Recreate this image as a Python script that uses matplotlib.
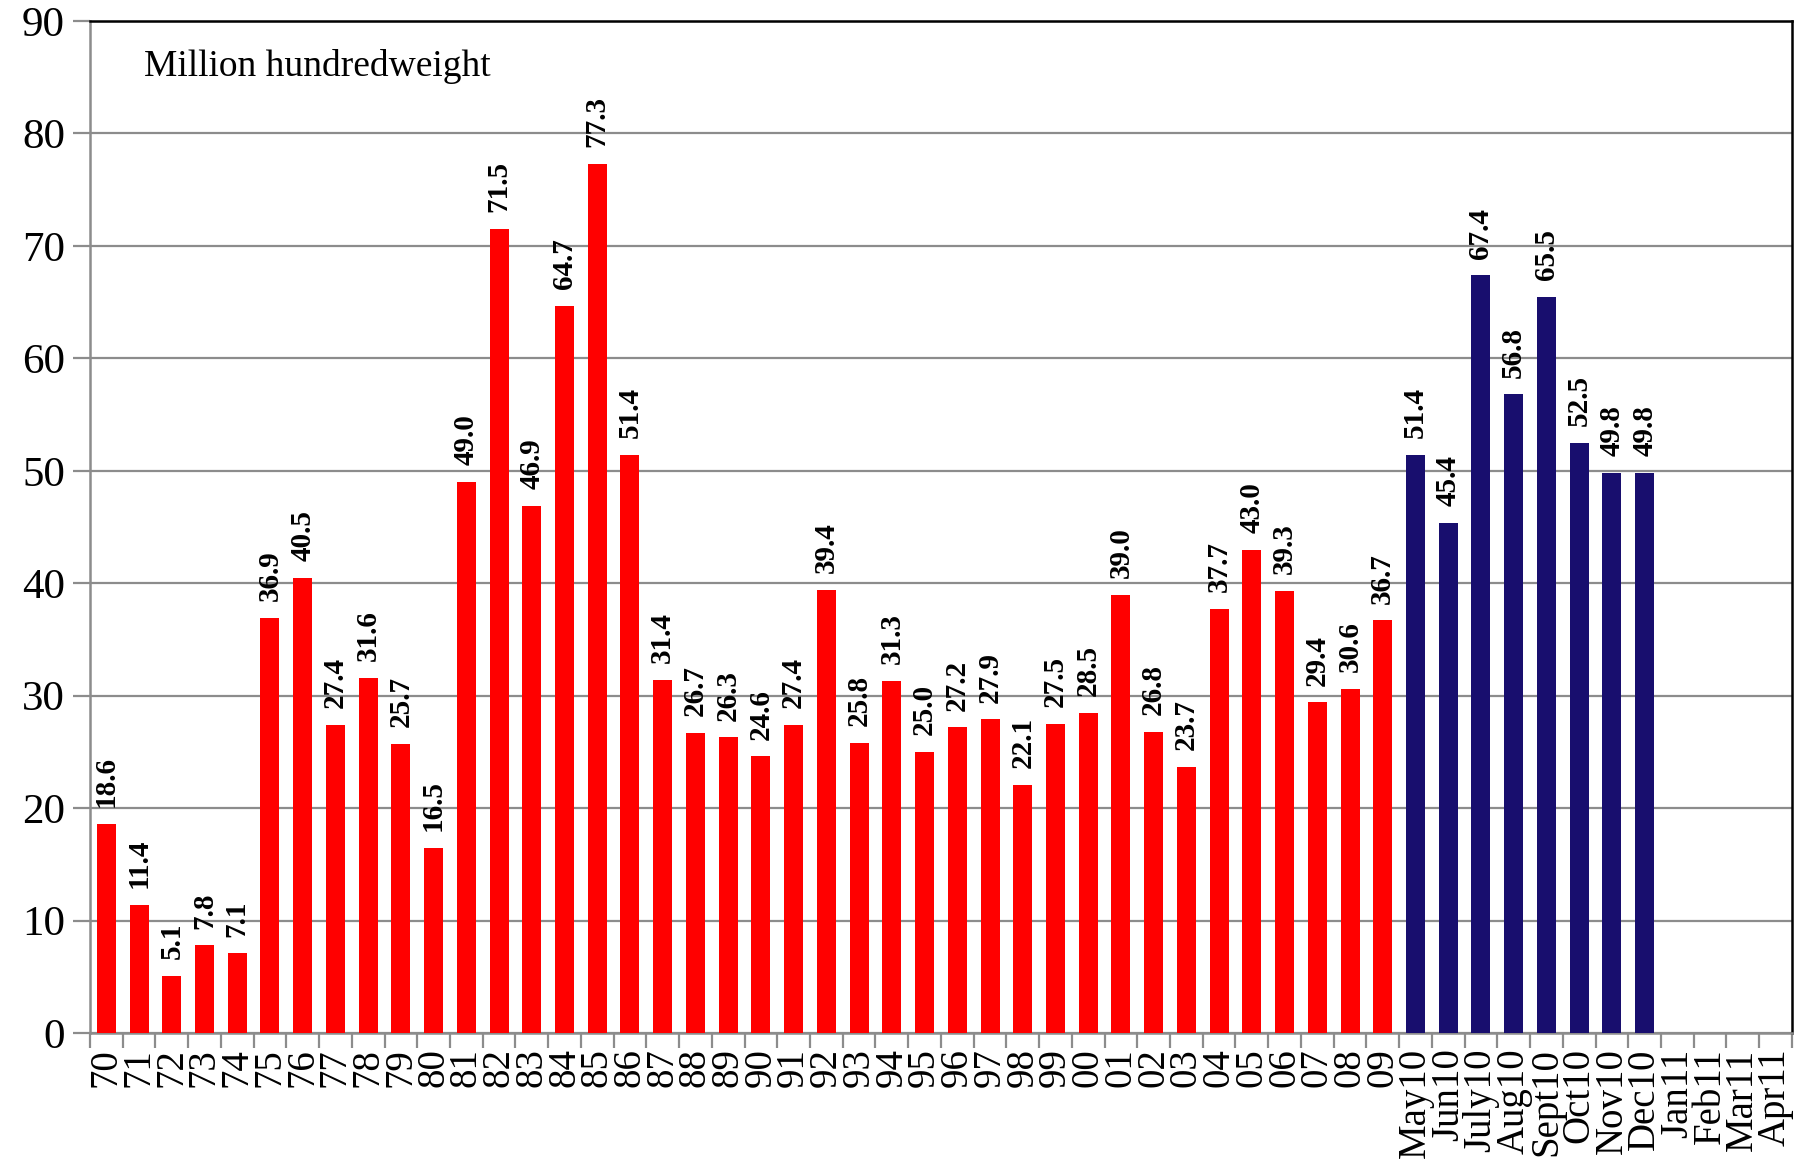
import matplotlib
matplotlib.use("Agg")
import matplotlib.pyplot as plt
import numpy as np

years = ["70","71","72","73","74","75","76","77","78","79","80","81","82","83","84","85","86","87","88","89",
         "90","91","92","93","94","95","96","97","98","99","00","01","02","03","04","05","06","07","08","09"]
year_values = [18.6,11.4,5.1,7.8,7.1,36.9,40.5,27.4,31.6,25.7,16.5,49.0,71.5,46.9,64.7,77.3,51.4,31.4,26.7,26.3,
               24.6,27.4,39.4,25.8,31.3,25.0,27.2,27.9,22.1,27.5,28.5,39.0,26.8,23.7,37.7,43.0,39.3,29.4,30.6,36.7]
months = ["May10","Jun10","July10","Aug10","Sept10","Oct10","Nov10","Dec10"]
month_values = [51.4,45.4,67.4,56.8,65.5,52.5,49.8,49.8]
empty_months = ["Jan11","Feb11","Mar11","Apr11"]

red = "#FF0000"
navy = "#180E6E"
grey = "#8C8C8C"

plt.rcParams['font.family'] = ['Liberation Serif', 'DejaVu Serif']

fig = plt.figure(figsize=(18.06, 11.69), dpi=100)
ax = fig.add_axes([0.0498, 0.1163, 0.9424, 0.8657])

labels = years + months + empty_months
n = len(labels)
x_years = np.arange(len(years))
x_months = np.arange(len(years), len(years) + len(months))
w = 0.58

b1 = ax.bar(x_years, year_values, width=w, color=red, zorder=3)
b2 = ax.bar(x_months, month_values, width=w, color=navy, zorder=3)

for bars, vals in ((b1, year_values), (b2, month_values)):
    for rect, v in zip(bars, vals):
        ax.annotate(f"{v:.1f}", (rect.get_x() + rect.get_width() / 2, v),
                    xytext=(0, 12), textcoords="offset points", rotation=90,
                    ha="center", va="bottom", fontsize=21, fontweight="bold", zorder=4)

ax.set_xlim(-0.5, n - 0.5)
ax.set_ylim(0, 90)
ax.set_yticks(np.arange(0, 91, 10))
ax.yaxis.grid(True, color=grey, linewidth=1.6, zorder=0)
ax.set_axisbelow(True)

ax.set_xticks(np.arange(n))
ax.set_xticklabels(labels, rotation=90, fontsize=28)
ax.set_xticks(np.arange(n + 1) - 0.5, minor=True)
ax.tick_params(axis="x", which="major", length=0, pad=11)
ax.tick_params(axis="x", which="minor", length=11, width=1.6, color=grey)
ax.tick_params(axis="y", which="major", length=12, width=1.6, color=grey, labelsize=31, pad=6)

for s in ("left", "bottom"):
    ax.spines[s].set_color(grey)
    ax.spines[s].set_linewidth(1.8)
for s in ("top", "right"):
    ax.spines[s].set_color("black")
    ax.spines[s].set_linewidth(1.8)

ax.text(0.032, 0.955, "Million hundredweight", transform=ax.transAxes,
        fontsize=27, ha="left", va="center")

fig.savefig("out.png", dpi=100)
